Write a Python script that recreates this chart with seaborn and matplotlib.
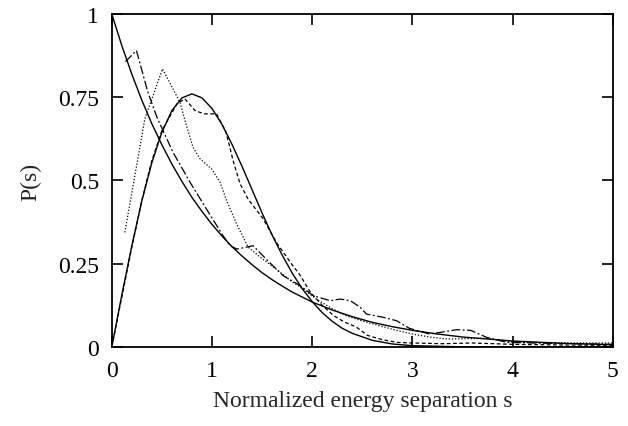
import numpy as np
import pandas as pd
import matplotlib
matplotlib.use("Agg")
import matplotlib.pyplot as plt
import seaborn as sns

# ========== DATA ==========
# solid: Poisson-like curve
s_poisson = [0.0, 0.1, 0.2, 0.3, 0.4, 0.5, 0.6, 0.7, 0.8, 0.9, 1.0, 1.1, 1.2, 1.3,
             1.4, 1.5, 1.6, 1.7, 1.8, 1.9, 2.0, 2.2, 2.4, 2.6, 2.8, 3.0, 3.25, 3.5,
             3.75, 4.0, 4.5, 5.0]
p_poisson = [1.0, 0.905, 0.819, 0.741, 0.670, 0.607, 0.549, 0.497, 0.449, 0.407,
             0.368, 0.333, 0.301, 0.273, 0.247, 0.223, 0.202, 0.183, 0.165, 0.150,
             0.135, 0.111, 0.091, 0.074, 0.061, 0.050, 0.039, 0.030, 0.024, 0.018,
             0.011, 0.007]

# solid: Wigner-like curve
s_wigner = [0.0, 0.1, 0.2, 0.3, 0.4, 0.5, 0.6, 0.7, 0.8, 0.9, 1.0, 1.1, 1.2, 1.3,
            1.4, 1.5, 1.6, 1.7, 1.8, 1.9, 2.0, 2.1, 2.2, 2.3, 2.4, 2.6, 2.8, 3.0,
            3.5, 4.0, 5.0]
p_wigner = [0.0, 0.156, 0.304, 0.439, 0.554, 0.645, 0.710, 0.748, 0.760, 0.748,
            0.716, 0.668, 0.608, 0.542, 0.472, 0.402, 0.336, 0.276, 0.222, 0.175,
            0.136, 0.103, 0.077, 0.056, 0.041, 0.020, 0.009, 0.004, 0.0005, 0.0, 0.0]

# short dashes
s_dashed = [0.0, 0.1, 0.2, 0.3, 0.4, 0.5, 0.65, 0.73, 0.83, 0.92, 1.045, 1.14,
            1.21, 1.28, 1.36, 1.51, 1.64, 1.78, 1.88, 1.98, 2.1, 2.21, 2.32, 2.44,
            2.55, 2.7, 2.84, 3.0, 3.3, 3.6, 4.0, 4.5, 5.0]
p_dashed = [0.0, 0.15, 0.30, 0.44, 0.56, 0.65, 0.73, 0.745, 0.71, 0.70, 0.70, 0.645,
            0.56, 0.49, 0.444, 0.385, 0.315, 0.255, 0.215, 0.165, 0.125, 0.095,
            0.075, 0.06, 0.035, 0.022, 0.014, 0.012, 0.01, 0.012, 0.008, 0.006, 0.005]

# dotted
s_dotted = [0.13, 0.33, 0.506, 0.68, 0.745, 0.81, 0.88, 0.995, 1.08, 1.145, 1.245,
            1.36, 1.5, 1.64, 1.78, 1.91, 2.04, 2.2, 2.34, 2.5, 2.67, 2.84, 3.0, 3.17,
            3.34, 3.54, 3.74, 3.9, 4.0, 4.3, 4.6, 5.0]
p_dotted = [0.344, 0.685, 0.835, 0.735, 0.665, 0.60, 0.565, 0.535, 0.495, 0.44,
            0.37, 0.30, 0.265, 0.234, 0.20, 0.174, 0.144, 0.115, 0.094, 0.078, 0.064,
            0.05, 0.039, 0.03, 0.024, 0.025, 0.026, 0.02, 0.015, 0.013, 0.012, 0.012]

# dash-dot
s_dashdot = [0.136, 0.246, 0.36, 0.45, 0.61, 0.78, 0.945, 1.11, 1.18, 1.25, 1.41,
             1.54, 1.71, 1.88, 2.01, 2.18, 2.28, 2.38, 2.48, 2.54, 2.71, 2.84, 2.97,
             3.17, 3.3, 3.44, 3.58, 3.74, 3.94, 4.2, 4.6, 5.0]
p_dashdot = [0.857, 0.89, 0.765, 0.69, 0.585, 0.495, 0.414, 0.334, 0.304, 0.294,
             0.304, 0.264, 0.214, 0.184, 0.154, 0.139, 0.144, 0.139, 0.119, 0.099,
             0.089, 0.079, 0.056, 0.039, 0.045, 0.052, 0.05, 0.029, 0.014, 0.012,
             0.01, 0.008]

x_ticks = [0, 1, 2, 3, 4, 5]
x_ticklabels = ["0", "1", "2", "3", "4", "5"]
y_ticks = [0, 0.25, 0.5, 0.75, 1]
y_ticklabels = ["0", "0.25", "0.5", "0.75", "1"]

# ========== PLOT ==========
sns.set_theme(style="ticks")
plt.rcParams['font.family'] = ['Liberation Serif', 'DejaVu Serif']

fig = plt.figure(figsize=(6.28, 4.27), dpi=100)
ax = fig.add_axes([0.178, 0.185, 0.798, 0.78])

curves = [
    (s_poisson, p_poisson, '-', 1.0),
    (s_wigner, p_wigner, '-', 1.0),
    (s_dashed, p_dashed, (0, (3, 2)), 0.9),
    (s_dotted, p_dotted, (0, (1, 1.5)), 0.9),
    (s_dashdot, p_dashdot, (0, (7, 2, 1.5, 2)), 0.9),
]
for xs, ys, ls, lw in curves:
    sns.lineplot(x=xs, y=ys, ax=ax, color='black', linestyle=ls, linewidth=lw,
                 sort=False, estimator=None)

ax.set_xlim(0, 5)
ax.set_ylim(0, 1)
ax.set_xticks(x_ticks)
ax.set_xticklabels(x_ticklabels)
ax.set_yticks(y_ticks)
ax.set_yticklabels(y_ticklabels)
ax.tick_params(direction='in', length=8, width=1.2, top=True, right=True,
               labelsize=17, colors='black', pad=9)
for sp in ax.spines.values():
    sp.set_visible(True)
    sp.set_linewidth(1.3)
    sp.set_color('black')

ax.set_xlabel('Normalized energy separation s', fontsize=17, labelpad=7)
ax.set_ylabel('P(s)', fontsize=17, labelpad=12)

fig.savefig('out.png', dpi=100)
